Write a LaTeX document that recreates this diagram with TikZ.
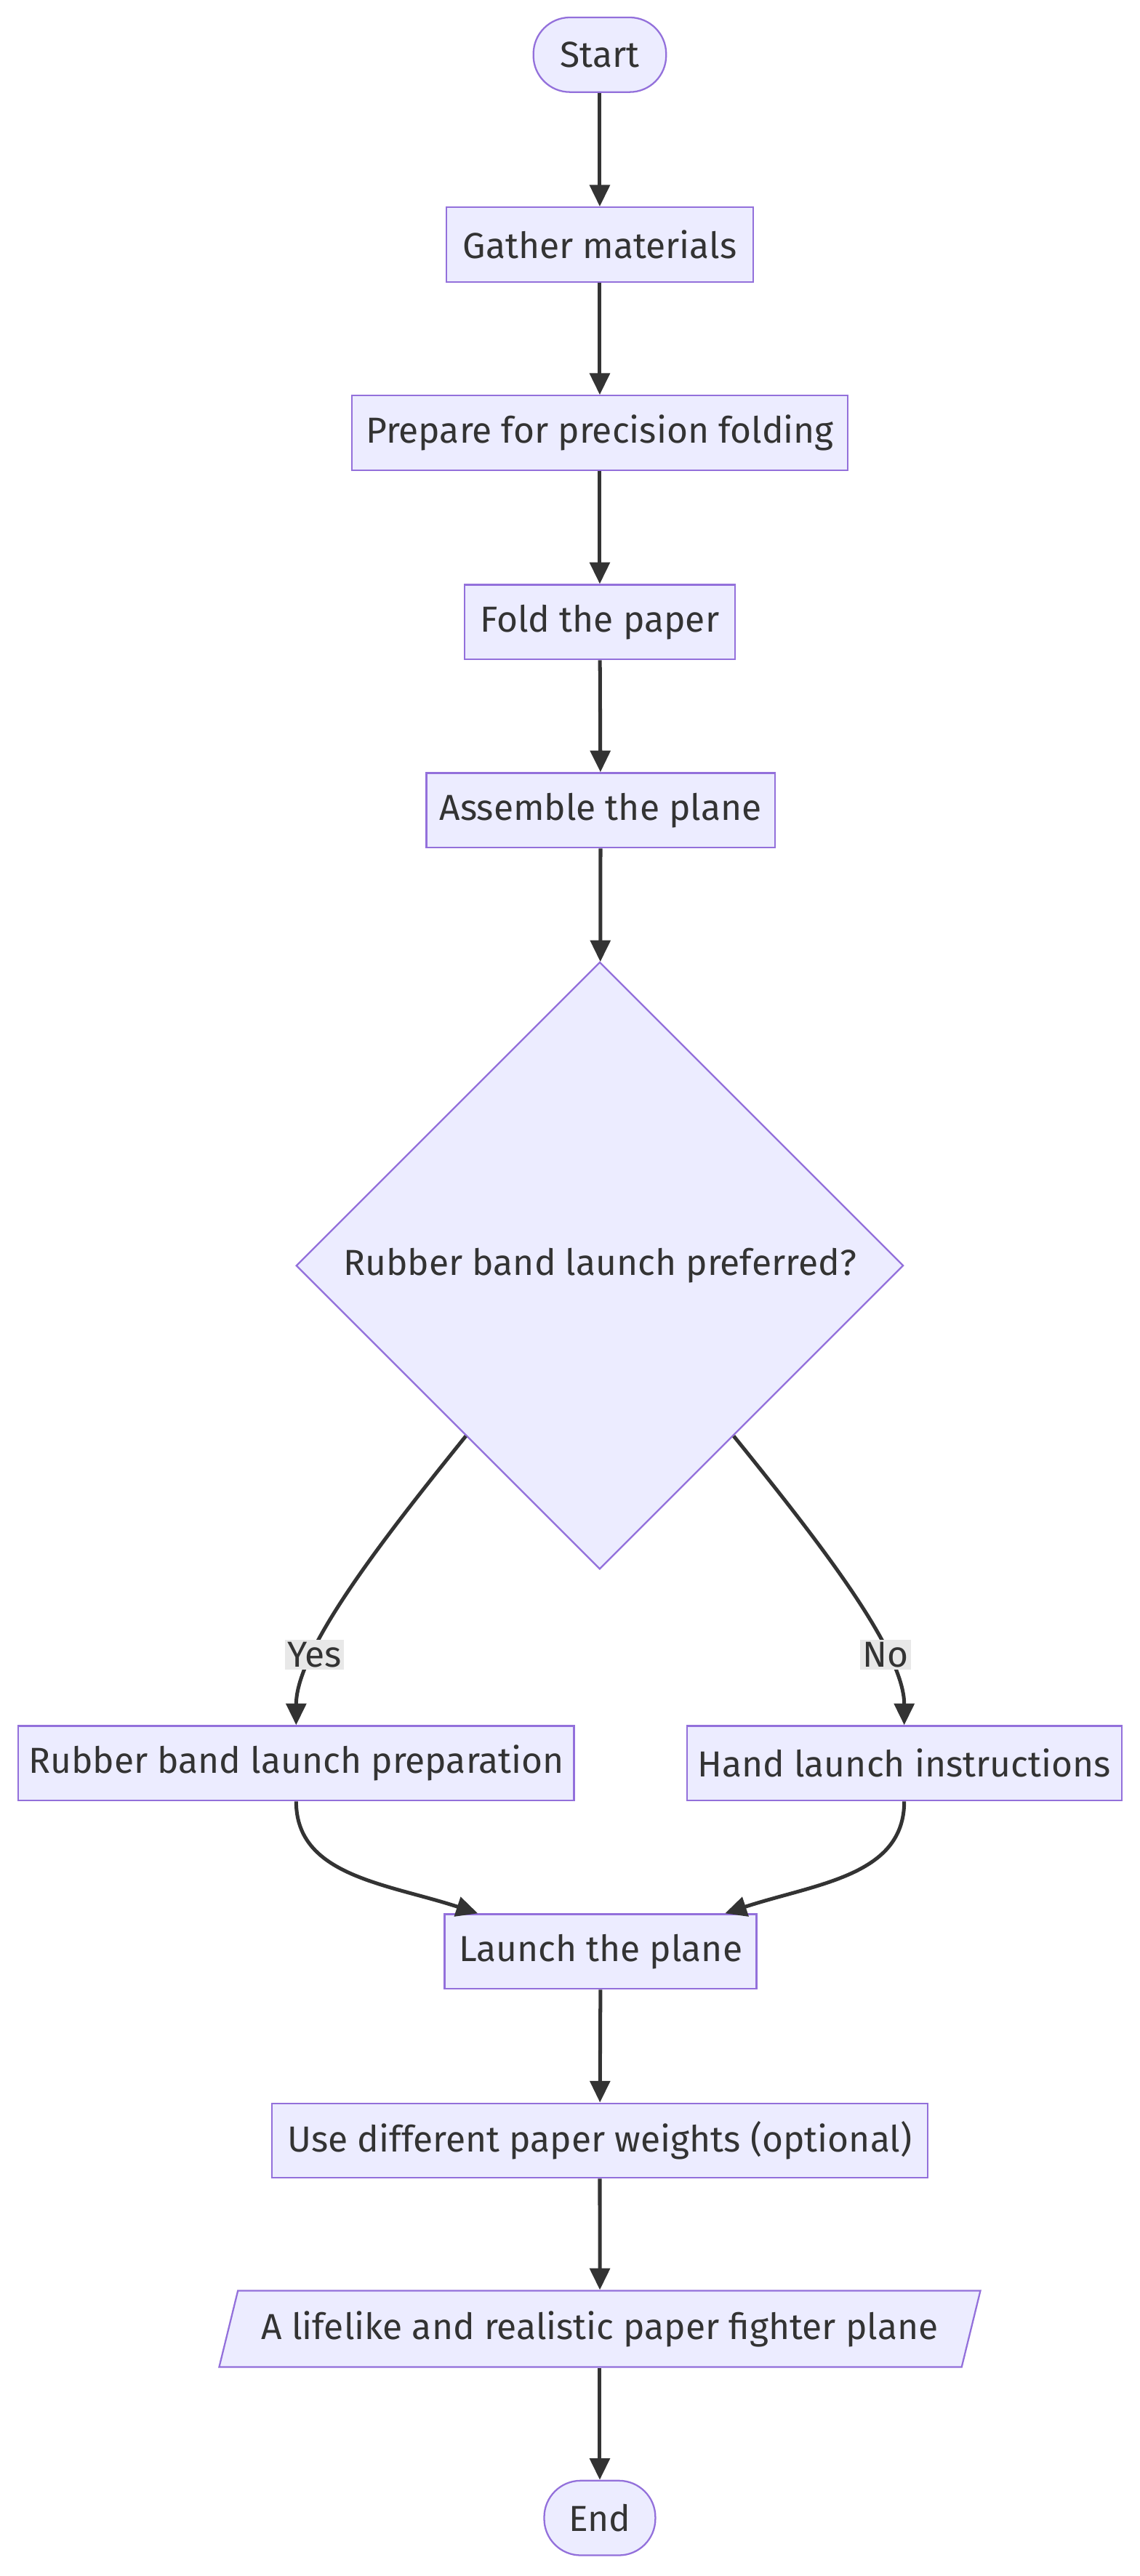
\documentclass[tikz,border=0pt]{standalone}
\usepackage{fontspec}
\setmainfont{Fira Sans}
\usetikzlibrary{shapes.geometric,arrows.meta,calc}

\definecolor{nodefill}{HTML}{ECECFF}
\definecolor{nodeline}{HTML}{9370DB}
\definecolor{edgecol}{HTML}{333333}
\definecolor{lblfill}{HTML}{E8E8E8}

\begin{document}
\begin{tikzpicture}[x=1pt,y=-1pt]
\tikzstyle{mybox} = [rectangle, draw = nodeline, fill = nodefill, line width = 1pt, minimum height = 45pt, inner sep = 0 pt, text = edgecol, font = \fontsize{21.8}{25}\selectfont]
\tikzstyle{myterm} = [mybox, rounded corners = 22pt]
\tikzstyle{mydecision} = [mybox, diamond, minimum width = 366pt, minimum height = 366pt]
\tikzstyle{myout} = [mybox, trapezium, trapezium left angle = 64, trapezium right angle = 116, trapezium stretches = true, minimum height = 46pt]
\tikzstyle{mylabel} = [fill = lblfill, inner sep = 1.5pt, text = edgecol, font = \fontsize{21.8}{25}\selectfont]
\tikzset{myarrow/.style={draw = edgecol, line width = 2.2pt, -{Triangle[length = 13pt, width = 12pt]}}}

\fill[white] (0,0) rectangle (687,1553);
\useasboundingbox (0,0) rectangle (687,1553);

\node [myterm, minimum width = 80pt] (start) at (361.5,33) {Start};
\node [mybox, minimum width = 185pt] (gather) at (361.5,147.5) {Gather materials};
\node [mybox, minimum width = 299pt] (prepare) at (361.5,261) {Prepare for precision folding};
\node [mybox, minimum width = 163pt] (fold) at (361.5,375) {Fold the paper};
\node [mybox, minimum width = 210pt] (assemble) at (362,488.5) {Assemble the plane};
\node [mydecision] (prefer) at (361.5,763) {Rubber band launch preferred?};
\node [mybox, minimum width = 335pt] (rubber) at (178.5,1063) {Rubber band launch preparation};
\node [mybox, minimum width = 262pt] (hand) at (545,1063) {Hand launch instructions};
\node [mybox, minimum width = 188pt] (launch) at (362,1176.5) {Launch the plane};
\node [mybox, minimum width = 395pt] (weights) at (361.5,1290.5) {Use different paper weights (optional)};
\node [myout, minimum width = 461pt] (plane) at (361.5,1404) {A lifelike and realistic paper fighter plane};
\node [myterm, minimum width = 67pt] (end) at (361.5,1518) {End};

\draw [myarrow] (start) -- (gather);
\draw [myarrow] (gather) -- (prepare);
\draw [myarrow] (prepare) -- (fold);
\draw [myarrow] (fold) -- (assemble);
\draw [myarrow] (assemble) -- (prefer);
\draw [myarrow] ($(prefer.west)!0.56!(prefer.south)$) .. controls +(-50,62) and +(0,-45) .. (rubber.north) node [mylabel, pos = 0.72] {Yes};
\draw [myarrow] ($(prefer.east)!0.56!(prefer.south)$) .. controls +(50,62) and +(0,-45) .. (hand.north) node [mylabel, pos = 0.72] {No};
\draw [myarrow] (rubber.south) .. controls +(0,45) and +(-55,-18) .. ([xshift = -74pt]launch.north);
\draw [myarrow] (hand.south) .. controls +(0,45) and +(55,-18) .. ([xshift = 75pt]launch.north);
\draw [myarrow] (launch) -- (weights);
\draw [myarrow] (weights) -- (plane);
\draw [myarrow] (plane) -- (end);

\end{tikzpicture}
\end{document}
